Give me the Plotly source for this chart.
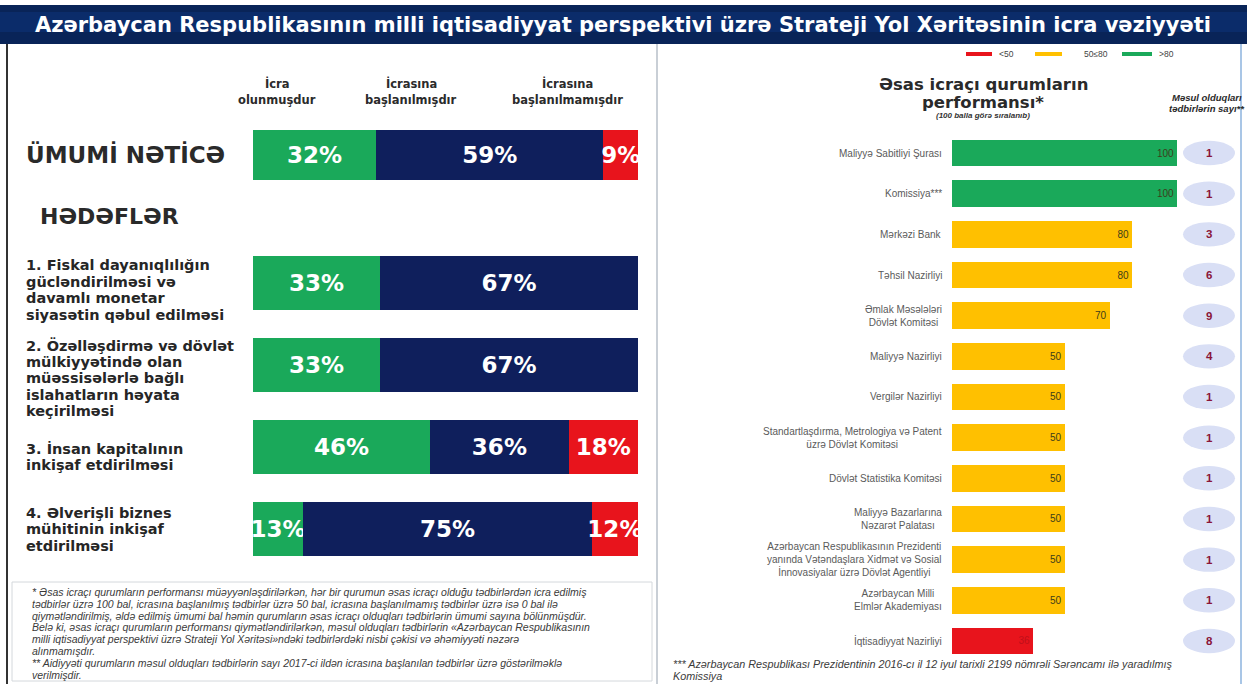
import plotly.graph_objects as go

# ---- data -------------------------------------------------------------
status_names = ["İcra olunmuşdur", "İcrasına başlanılmışdır", "İcrasına başlanılmamışdır"]
status_colors = ["#1aa95a", "#0f1f5c", "#e8141c"]

overall_label = "ÜMUMİ NƏTİCƏ"
overall_done = [32]
overall_started = [59]
overall_not_started = [9]

goal_labels = [
    "1. Fiskal dayanıqlılığın<br>gücləndirilməsi və<br>davamlı monetar<br>siyasətin qəbul edilməsi",
    "2. Özəlləşdirmə və dövlət<br>mülkiyyətində olan<br>müəssisələrlə bağlı<br>islahatların həyata<br>keçirilməsi",
    "3. İnsan kapitalının<br>inkişaf etdirilməsi",
    "4. Əlverişli biznes<br>mühitinin inkişaf<br>etdirilməsi",
]
goal_done = [33, 33, 46, 13]
goal_started = [67, 67, 36, 75]
goal_not_started = [0, 0, 18, 12]

agencies = [
    "Maliyyə Sabitliyi Şurası",
    "Komissiya***",
    "Mərkəzi Bank",
    "Təhsil Nazirliyi",
    "Əmlak Məsələləri<br>Dövlət Komitəsi",
    "Maliyyə Nazirliyi",
    "Vergilər Nazirliyi",
    "Standartlaşdırma, Metrologiya və Patent<br>üzrə Dövlət Komitəsi",
    "Dövlət Statistika Komitəsi",
    "Maliyyə Bazarlarına<br>Nəzarət Palatası",
    "Azərbaycan Respublikasının Prezidenti<br>yanında Vətəndaşlara Xidmət və Sosial<br>İnnovasiyalar üzrə Dövlət Agentliyi",
    "Azərbaycan Milli<br>Elmlər Akademiyası",
    "İqtisadiyyat Nazirliyi",
]
agency_scores = [100, 100, 80, 80, 70, 50, 50, 50, 50, 50, 50, 50, 36]
agency_measures = [1, 1, 3, 6, 9, 4, 1, 1, 1, 1, 1, 1, 8]

legend_items = [("<50", "#e8141c"), ("50≤80", "#ffc000"), (">80", "#1aa95a")]

# ---- layout helpers ---------------------------------------------------
W, H = 1247, 684


def px(x):
    return x / W


def py(y):
    return 1 - y / H


def score_color(v):
    if v > 80:
        return "#1aa95a"
    if v >= 50:
        return "#ffc000"
    return "#e8141c"


BOLD = "DejaVu Sans"
SANS = "Liberation Sans"

fig = go.Figure()

# stacked bar: overall result
for vals, name, col in zip([overall_done, overall_started, overall_not_started], status_names, status_colors):
    fig.add_trace(go.Bar(
        x=vals, y=[overall_label], orientation="h", name=name,
        marker=dict(color=col, line=dict(width=0)), width=0.62,
        text=[f"{v}%" if v else "" for v in vals], textposition="inside", textangle=0,
        insidetextanchor="middle", constraintext="none",
        textfont=dict(family=BOLD, size=23, color="white", weight="bold"),
        xaxis="x", yaxis="y", showlegend=False, cliponaxis=False,
    ))

# stacked bars: goals
for vals, name, col in zip([goal_done, goal_started, goal_not_started], status_names, status_colors):
    fig.add_trace(go.Bar(
        x=vals, y=goal_labels, orientation="h", name=name,
        marker=dict(color=col, line=dict(width=0)), width=0.65,
        text=[f"{v}%" if v else "" for v in vals], textposition="inside", textangle=0,
        insidetextanchor="middle", constraintext="none",
        textfont=dict(family=BOLD, size=23, color="white", weight="bold"),
        xaxis="x2", yaxis="y2", showlegend=False, cliponaxis=False,
    ))

# agency performance bars
fig.add_trace(go.Bar(
    x=agency_scores, y=agencies, orientation="h",
    marker=dict(color=[score_color(v) for v in agency_scores], line=dict(width=0)),
    width=0.66,
    text=[str(v) for v in agency_scores], textposition="inside", textangle=0,
    insidetextanchor="end", constraintext="none",
    textfont=dict(family=SANS, size=10,
                  color=["#3d3d1a" if v >= 50 else "#c0101a" for v in agency_scores]),
    xaxis="x3", yaxis="y3", showlegend=False,
))

ann = []
shapes = []

# title bar
shapes.append(dict(type="rect", xref="paper", yref="paper", x0=0, x1=1, y0=py(44), y1=py(5),
                   fillcolor="#0b2c6a", line=dict(width=0), layer="below"))
shapes.append(dict(type="rect", xref="paper", yref="paper", x0=0, x1=1, y0=py(44), y1=py(32),
                   fillcolor="#081f4d", line=dict(width=0), layer="below", opacity=0.6))
shapes.append(dict(type="rect", xref="paper", yref="paper", x0=0, x1=1, y0=py(12), y1=py(5),
                   fillcolor="#081f4d", line=dict(width=0), layer="below", opacity=0.6))
ann.append(dict(text="Azərbaycan Respublikasının milli iqtisadiyyat perspektivi üzrə Strateji Yol Xəritəsinin icra vəziyyəti",
                x=px(33), y=py(25), xref="paper", yref="paper", xanchor="left", yanchor="middle",
                showarrow=False, font=dict(family=BOLD, size=21, color="white", weight="bold")))

# panel borders
shapes.append(dict(type="line", xref="paper", yref="paper", x0=px(7), x1=px(7), y0=0, y1=py(44),
                   line=dict(color="#333333", width=2)))
shapes.append(dict(type="line", xref="paper", yref="paper", x0=px(657), x1=px(657), y0=0, y1=py(44),
                   line=dict(color="#c9cfd6", width=2)))
shapes.append(dict(type="line", xref="paper", yref="paper", x0=px(1241), x1=px(1241), y0=0, y1=py(44),
                   line=dict(color="#a9c6e6", width=2)))
# footnote box
shapes.append(dict(type="rect", xref="paper", yref="paper", x0=px(12), x1=px(652), y0=py(681), y1=py(582),
                   fillcolor="rgba(0,0,0,0)", line=dict(color="#d4d8dc", width=1)))

# column headers
for name, xc in zip(status_names, [277, 411, 567]):
    first, second = name.split(" ")
    for k, part in enumerate([first, second]):
        ann.append(dict(text=part, x=px(xc), y=py(83 + k * 17), xref="paper", yref="paper",
                        xanchor="center", yanchor="middle", showarrow=False,
                        font=dict(family=BOLD, size=11.5, color="#2b2b2b", weight="bold")))

# row labels on the left
ann.append(dict(text=overall_label, x=px(24), y=0, xref="paper", yref="y",
                xanchor="left", yanchor="middle", showarrow=False,
                font=dict(family=BOLD, size=23, color="#2a2a2a", weight="bold")))
ann.append(dict(text="HƏDƏFLƏR", x=px(38), y=py(216), xref="paper", yref="paper",
                xanchor="left", yanchor="middle", showarrow=False,
                font=dict(family=BOLD, size=22, color="#2a2a2a", weight="bold")))

# goal labels, one annotation per line so the line spacing stays tight
goal_top, goal_step = 242, 82
goal_offsets = [7, 13, 10, 0]
for i, (lab, off) in enumerate(zip(goal_labels, goal_offsets)):
    lines = lab.split("<br>")
    centre = goal_top + goal_step * (i + 0.5) + off
    for k, line in enumerate(lines):
        ann.append(dict(text=line, x=px(24), y=py(centre + (k - (len(lines) - 1) / 2) * 16.5),
                        xref="paper", yref="paper", xanchor="left", yanchor="middle",
                        showarrow=False,
                        font=dict(family=BOLD, size=14.5, color="#262626", weight="bold")))

# right header
for k, line in enumerate(["Əsas icraçı qurumların", "performansı*"]):
    ann.append(dict(text=line, x=px(983), y=py(85 + k * 17), xref="paper", yref="paper",
                    xanchor="center", yanchor="middle", showarrow=False,
                    font=dict(family=BOLD, size=16.5, color="#2a2a2a", weight="bold")))
ann.append(dict(text="(100 balla görə sıralanıb)", x=px(983), y=py(116),
                xref="paper", yref="paper", xanchor="center", yanchor="middle", showarrow=False,
                font=dict(family=SANS, size=8, color="#333", style="italic", weight="bold")))
for k, line in enumerate(["Məsul olduqları", "tədbirlərin sayı**"]):
    ann.append(dict(text=line, x=px(1207), y=py(97 + k * 12), xref="paper", yref="paper",
                    xanchor="center", yanchor="middle", showarrow=False,
                    font=dict(family=SANS, size=9.5, color="#2a2a2a", style="italic", weight="bold")))

# legend
leg_x = [(966, 992), (1035, 1062), (1122, 1152)]
for (lab, col), (x0, x1) in zip(legend_items, leg_x):
    shapes.append(dict(type="line", xref="paper", yref="paper", x0=px(x0), x1=px(x1), y0=py(54), y1=py(54),
                       line=dict(color=col, width=4)))
    ann.append(dict(text=lab, x=px(x1 + (20 if lab == "50≤80" else 5)), y=py(54), xref="paper", yref="paper",
                    xanchor="left", yanchor="middle", showarrow=False,
                    font=dict(family=SANS, size=8.5, color="#444")))

# agency names and measure counts
for i, (name, n) in enumerate(zip(agencies, agency_measures)):
    ann.append(dict(text=name, x=px(944), y=i, xref="paper", yref="y3", xanchor="right",
                    yanchor="middle", showarrow=False, align="center",
                    font=dict(family=SANS, size=10, color="#5a5a5a")))
    shapes.append(dict(type="circle", xref="paper", yref="y3", x0=px(1183), x1=px(1235),
                       y0=i - 0.3, y1=i + 0.3, fillcolor="#d9dff5", line=dict(width=0), layer="below"))
    ann.append(dict(text=str(n), x=px(1209), y=i, xref="paper", yref="y3", xanchor="center",
                    yanchor="middle", showarrow=False,
                    font=dict(family=SANS, size=11.5, color="#8a1538", weight="bold")))

# footnotes
foot_left = [
    "* Əsas icraçı qurumların performansı müəyyənləşdirilərkən, hər bir qurumun əsas icraçı olduğu tədbirlərdən icra edilmiş",
    "tədbirlər üzrə 100 bal, icrasına başlanılmış tədbirlər üzrə 50 bal, icrasına başlanılmamış tədbirlər üzrə isə 0 bal ilə",
    "qiymətləndirilmiş, əldə edilmiş ümumi bal həmin qurumların əsas icraçı olduqları tədbirlərin ümumi sayına bölünmüşdür.",
    "Belə ki, əsas icraçı qurumların performansı qiymətləndirilərkən, məsul olduqları tədbirlərin «Azərbaycan Respublikasının",
    "milli iqtisadiyyat perspektivi üzrə Strateji Yol Xəritəsi»ndəki tədbirlərdəki nisbi çəkisi və əhəmiyyəti nəzərə",
    "alınmamışdır.",
    "** Aidiyyəti qurumların məsul olduqları tədbirlərin sayı 2017-ci ildən icrasına başlanılan tədbirlər üzrə göstərilməklə",
    "verilmişdir.",
]
for k, line in enumerate(foot_left):
    ann.append(dict(text=line, x=px(30), y=py(592 + k * 11.8), xref="paper", yref="paper",
                    xanchor="left", yanchor="middle", showarrow=False,
                    font=dict(family=SANS, size=10.5, color="#3a3a3a", style="italic")))
foot_right = [
    "*** Azərbaycan Respublikası Prezidentinin 2016-cı il 12 iyul tarixli 2199 nömrəli Sərəncamı ilə yaradılmış",
    "Komissiya",
]
for k, line in enumerate(foot_right):
    ann.append(dict(text=line, x=px(671), y=py(664 + k * 11.5), xref="paper", yref="paper",
                    xanchor="left", yanchor="middle", showarrow=False,
                    font=dict(family=SANS, size=10.8, color="#3a3a3a", style="italic")))

hidden = dict(showgrid=False, zeroline=False, showticklabels=False, showline=False, ticks="")

fig.update_layout(
    width=W, height=H, margin=dict(l=0, r=0, t=0, b=0),
    paper_bgcolor="white", plot_bgcolor="rgba(0,0,0,0)",
    barmode="stack", bargap=0.3,
    xaxis=dict(domain=[px(253), px(638)], range=[0, 100], anchor="y", **hidden),
    yaxis=dict(domain=[py(196), py(114)], anchor="x", **hidden),
    xaxis2=dict(domain=[px(253), px(638)], range=[0, 100], anchor="y2", **hidden),
    yaxis2=dict(domain=[py(570), py(242)], anchor="x2", range=[3.5, -0.5], type="category", **hidden),
    xaxis3=dict(domain=[px(952), px(1177)], range=[0, 100], anchor="y3", **hidden),
    yaxis3=dict(domain=[py(661.3), py(132.7)], anchor="x3", range=[12.5, -0.5], type="category", **hidden),
    annotations=ann, shapes=shapes,
)

fig.write_html("out.html")
